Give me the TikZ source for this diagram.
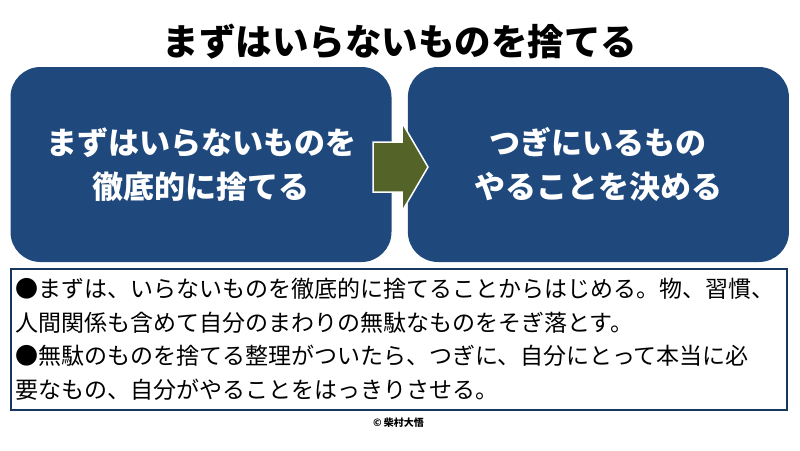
\documentclass[tikz,border=0pt]{standalone}
\usepackage{fontspec}
\newfontfamily\jp{Noto Sans CJK JP}
\usetikzlibrary{positioning}
\definecolor{myblue}{RGB}{31,73,125}
\definecolor{mygreen}{RGB}{84,100,40}
\colorlet{darkblue}{myblue!75!black}

\begin{document}
\begin{tikzpicture}[x=1pt,y=-1pt,
		every node/.style={
			font=\jp,
			inner sep=0pt
		},
		bigbox/.style={
			fill=myblue, rounded corners=30pt,
			minimum width=381pt, minimum height=195pt,
			text=white, align=center,
			font=\jp\bfseries\fontsize{31}{44}\selectfont
		},
		flecha/.style={
			fill=mygreen, draw=white, line width=1.5pt, line join=miter
		}
	]

	\useasboundingbox (0,0) rectangle (800,450);

	\node[font=\jp\bfseries\fontsize{36.5}{40}\selectfont] (titulo) at (400,42) {まずはいらないものを捨てる};

	\node[bigbox] (izq) at (201,164.5) {まずはいらないものを\\徹底的に捨てる};
	\node[bigbox, right=16pt of izq] (der) {つぎにいるもの\\やることを決める};

	% flecha entre las cajas
	\coordinate (arr) at (400.5,167);
	\draw[flecha] (arr) ++(-27.5,-25) -- ++(29,0) -- ++(0,-19.5) -- ++(26,44.5)
		-- ++(-26,44.5) -- ++(0,-19.5) -- ++(-29,0) -- cycle;

	\node[draw=darkblue, line width=2pt, minimum width=776pt, minimum height=141pt,
		text width=766pt, align=left, inner sep=4pt,
		font=\jp\fontsize{23}{33.5}\selectfont] (texto) at (398.5,339.5)
		{●まずは、いらないものを徹底的に捨てることからはじめる。物、習慣、\\
		人間関係も含めて自分のまわりの無駄なものをそぎ落とす。\\
		●無駄のものを捨てる整理がついたら、つぎに、自分にとって本当に必\\
		要なもの、自分がやることをはっきりさせる。};

	\node[below=7pt of texto, font=\jp\bfseries\fontsize{10}{12}\selectfont] (copy) {© 柴村大悟};

\end{tikzpicture}
\end{document}
